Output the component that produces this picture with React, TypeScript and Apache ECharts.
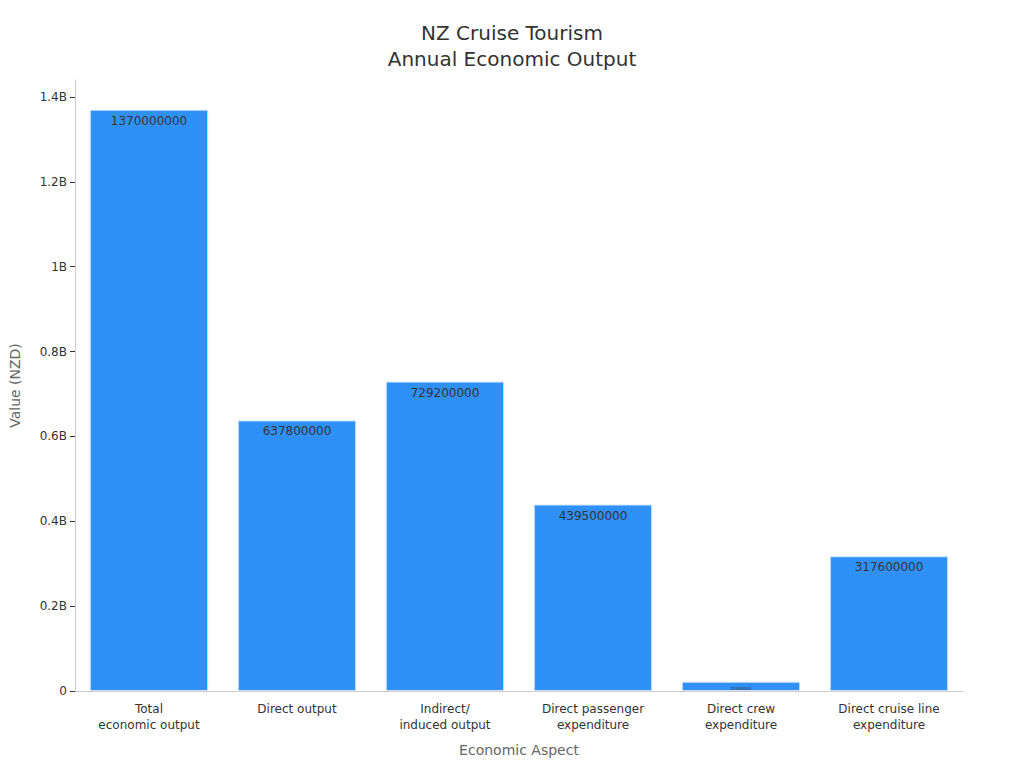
import { useEffect, useRef } from 'react'
import * as echarts from 'echarts'

const categories = [
  'Total\neconomic output',
  'Direct output',
  'Indirect/\ninduced output',
  'Direct passenger\nexpenditure',
  'Direct crew\nexpenditure',
  'Direct cruise line\nexpenditure',
]
const values = [1370000000, 637800000, 729200000, 439500000, 22000000, 317600000]

const FONT = '"DejaVu Sans", sans-serif'

export default function App() {
  const ref = useRef<HTMLDivElement>(null)

  useEffect(() => {
    if (!ref.current) return
    const chart = echarts.init(ref.current, undefined, { renderer: 'svg' })
    chart.setOption({
      animation: false,
      backgroundColor: '#fff',
      textStyle: { fontFamily: FONT },
      title: {
        text: 'NZ Cruise Tourism\nAnnual Economic Output',
        left: 'center',
        top: 15,
        textStyle: { fontFamily: FONT, fontSize: 20, fontWeight: 'normal', color: '#333', lineHeight: 26 },
      },
      grid: { left: 72, right: 61, top: 80, bottom: 77 },
      xAxis: {
        type: 'category',
        data: categories,
        name: 'Economic Aspect',
        nameLocation: 'middle',
        nameGap: 52,
        nameTextStyle: { color: '#666', fontSize: 14, fontFamily: FONT },
        axisLine: { lineStyle: { color: '#ccc' } },
        axisTick: { alignWithLabel: true, lineStyle: { color: '#333' } },
        axisLabel: { color: '#333', fontSize: 12, lineHeight: 16, margin: 10, interval: 0 },
      },
      yAxis: {
        type: 'value',
        min: 0,
        max: 1440000000,
        interval: 200000000,
        name: 'Value (NZD)',
        nameLocation: 'middle',
        nameGap: 53,
        nameTextStyle: { color: '#666', fontSize: 14, fontFamily: FONT },
        axisLine: { show: true, lineStyle: { color: '#ccc' } },
        axisTick: { show: true, lineStyle: { color: '#333' } },
        splitLine: { show: false },
        axisLabel: {
          color: '#333',
          fontSize: 12,
          showMaxLabel: false,
          formatter: (v: number) => (v === 0 ? '0' : `${+(v / 1e9).toFixed(1)}B`),
        },
      },
      series: [
        {
          type: 'bar',
          data: values,
          barCategoryGap: '20%',
          itemStyle: { color: '#2f91f7', borderColor: '#cfe4fb', borderWidth: 1 },
          label: {
            show: true,
            position: 'insideTop',
            distance: 5,
            color: '#333',
            fontSize: 12,
            formatter: (p: any) => String(p.value),
          },
          labelLayout: (p: any) =>
            p.dataIndex === 4 ? { fontSize: 4 } : {},
        },
      ],
    })
    return () => chart.dispose()
  }, [])

  return <div ref={ref} style={{ width: 1024, height: 768, margin: -8 }} />
}
